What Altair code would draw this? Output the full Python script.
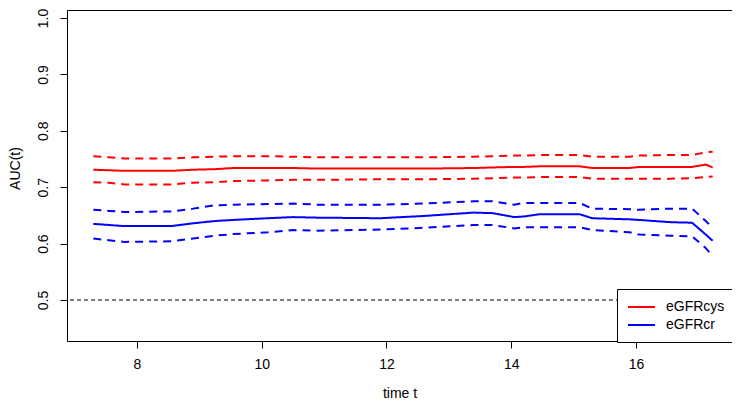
import altair as alt
import pandas as pd

# ---- data ----
t = [7.30, 7.55, 7.80, 8.55, 8.90, 9.25, 9.55, 10.10, 10.50, 10.90, 11.90, 12.60,
     13.40, 13.70, 14.05, 14.20, 14.45, 15.10, 15.30, 15.90, 16.05, 16.55, 16.90, 17.12, 17.23]

cys_est = [0.731, 0.730, 0.729, 0.729, 0.731, 0.732, 0.734, 0.734, 0.734, 0.733, 0.733, 0.733,
           0.734, 0.735, 0.736, 0.736, 0.737, 0.737, 0.734, 0.734, 0.736, 0.736, 0.736, 0.740, 0.735]
cys_up = [0.755, 0.753, 0.751, 0.751, 0.753, 0.754, 0.755, 0.755, 0.754, 0.753, 0.753, 0.753,
          0.754, 0.755, 0.756, 0.756, 0.757, 0.757, 0.754, 0.754, 0.756, 0.757, 0.757, 0.762, 0.763]
cys_lo = [0.709, 0.708, 0.705, 0.705, 0.708, 0.709, 0.711, 0.712, 0.713, 0.713, 0.714, 0.714,
          0.715, 0.716, 0.717, 0.717, 0.718, 0.718, 0.715, 0.715, 0.715, 0.715, 0.716, 0.718, 0.719]
cr_est = [0.635, 0.633, 0.631, 0.631, 0.636, 0.640, 0.642, 0.645, 0.647, 0.646, 0.645, 0.649,
          0.655, 0.654, 0.647, 0.648, 0.652, 0.652, 0.645, 0.643, 0.642, 0.638, 0.637, 0.616, 0.605]
cr_up = [0.660, 0.658, 0.656, 0.657, 0.662, 0.668, 0.669, 0.670, 0.671, 0.669, 0.669, 0.671,
         0.675, 0.675, 0.669, 0.672, 0.672, 0.672, 0.662, 0.661, 0.660, 0.662, 0.662, 0.640, 0.628]
cr_lo = [0.609, 0.606, 0.603, 0.604, 0.609, 0.614, 0.617, 0.620, 0.624, 0.623, 0.625, 0.628,
         0.633, 0.633, 0.627, 0.629, 0.629, 0.629, 0.624, 0.620, 0.616, 0.614, 0.613, 0.592, 0.578]

markers = ["eGFRcys", "eGFRcr"]
marker_colors = ["#ff0000", "#0000ff"]
kinds = ["estimate", "upper", "lower"]
x_ticks = [8, 10, 12, 14, 16]
y_ticks = [0.5, 0.6, 0.7, 0.8, 0.9, 1.0]
reference_auc = [0.5]

series = {
    ("eGFRcys", "estimate"): cys_est,
    ("eGFRcys", "upper"): cys_up,
    ("eGFRcys", "lower"): cys_lo,
    ("eGFRcr", "estimate"): cr_est,
    ("eGFRcr", "upper"): cr_up,
    ("eGFRcr", "lower"): cr_lo,
}
rows = []
for (m, k), vals in series.items():
    for ti, v in zip(t, vals):
        rows.append({"t": ti, "auc": v, "marker": m, "kind": k})
df = pd.DataFrame(rows)

FONT = "Liberation Sans"

x_scale = alt.Scale(domain=[6.878, 17.54], nice=False, zero=False)
y_scale = alt.Scale(domain=[0.4273, 1.0142], nice=False, zero=False)

lines = alt.Chart(df).mark_line(strokeWidth=2, clip=True).encode(
    x=alt.X("t:Q", scale=x_scale,
            axis=alt.Axis(values=x_ticks, title="time t", format="d",
                          labelPadding=9,
                          titleY=56, titleBaseline="alphabetic")),
    y=alt.Y("auc:Q", scale=y_scale,
            axis=alt.Axis(values=y_ticks, title="AUC(t)", format=".1f",
                          labelAngle=270, labelAlign="center", labelBaseline="bottom",
                          labelPadding=10,
                          titleAngle=270, titleAlign="center", titleBaseline="middle",
                          titleX=-52, titleY=158)),
    color=alt.Color("marker:N",
                    scale=alt.Scale(domain=markers, range=marker_colors),
                    legend=alt.Legend(title=None, orient="none", legendX=550, legendY=279,
                                      symbolType="M-1,0H2.86", symbolSize=196,
                                      symbolStrokeWidth=2, labelOffset=23,
                                      padding=10, rowPadding=3,
                                      strokeColor="black", fillColor="white",
                                      cornerRadius=0,
                                      labelFont=FONT, labelFontSize=14,
                                      labelColor="black")),
    strokeDash=alt.StrokeDash("kind:N",
                              scale=alt.Scale(domain=kinds,
                                              range=[[1, 0], [8, 6], [8, 6]]),
                              legend=None),
)

ref = alt.Chart(pd.DataFrame({"y": reference_auc})).mark_rule(
    color="black", strokeWidth=1, strokeDash=[4, 3]
).encode(y=alt.Y("y:Q", scale=y_scale))

chart = alt.layer(ref, lines).properties(
    width=665, height=331,
    background="white",
    autosize=alt.AutoSizeParams(type="none"),
    padding={"left": 59, "top": 2, "right": 0, "bottom": 60},
).configure_view(
    stroke="black", strokeWidth=1
).configure_axis(
    domain=False, grid=False, ticks=True, tickSize=7, tickColor="black",
    labelFont=FONT, labelFontSize=14, labelColor="black",
    titleFont=FONT, titleFontSize=14, titleColor="black", titleFontWeight="normal",
)

chart.save("out.html", embed_options={"renderer": "svg", "actions": False})
